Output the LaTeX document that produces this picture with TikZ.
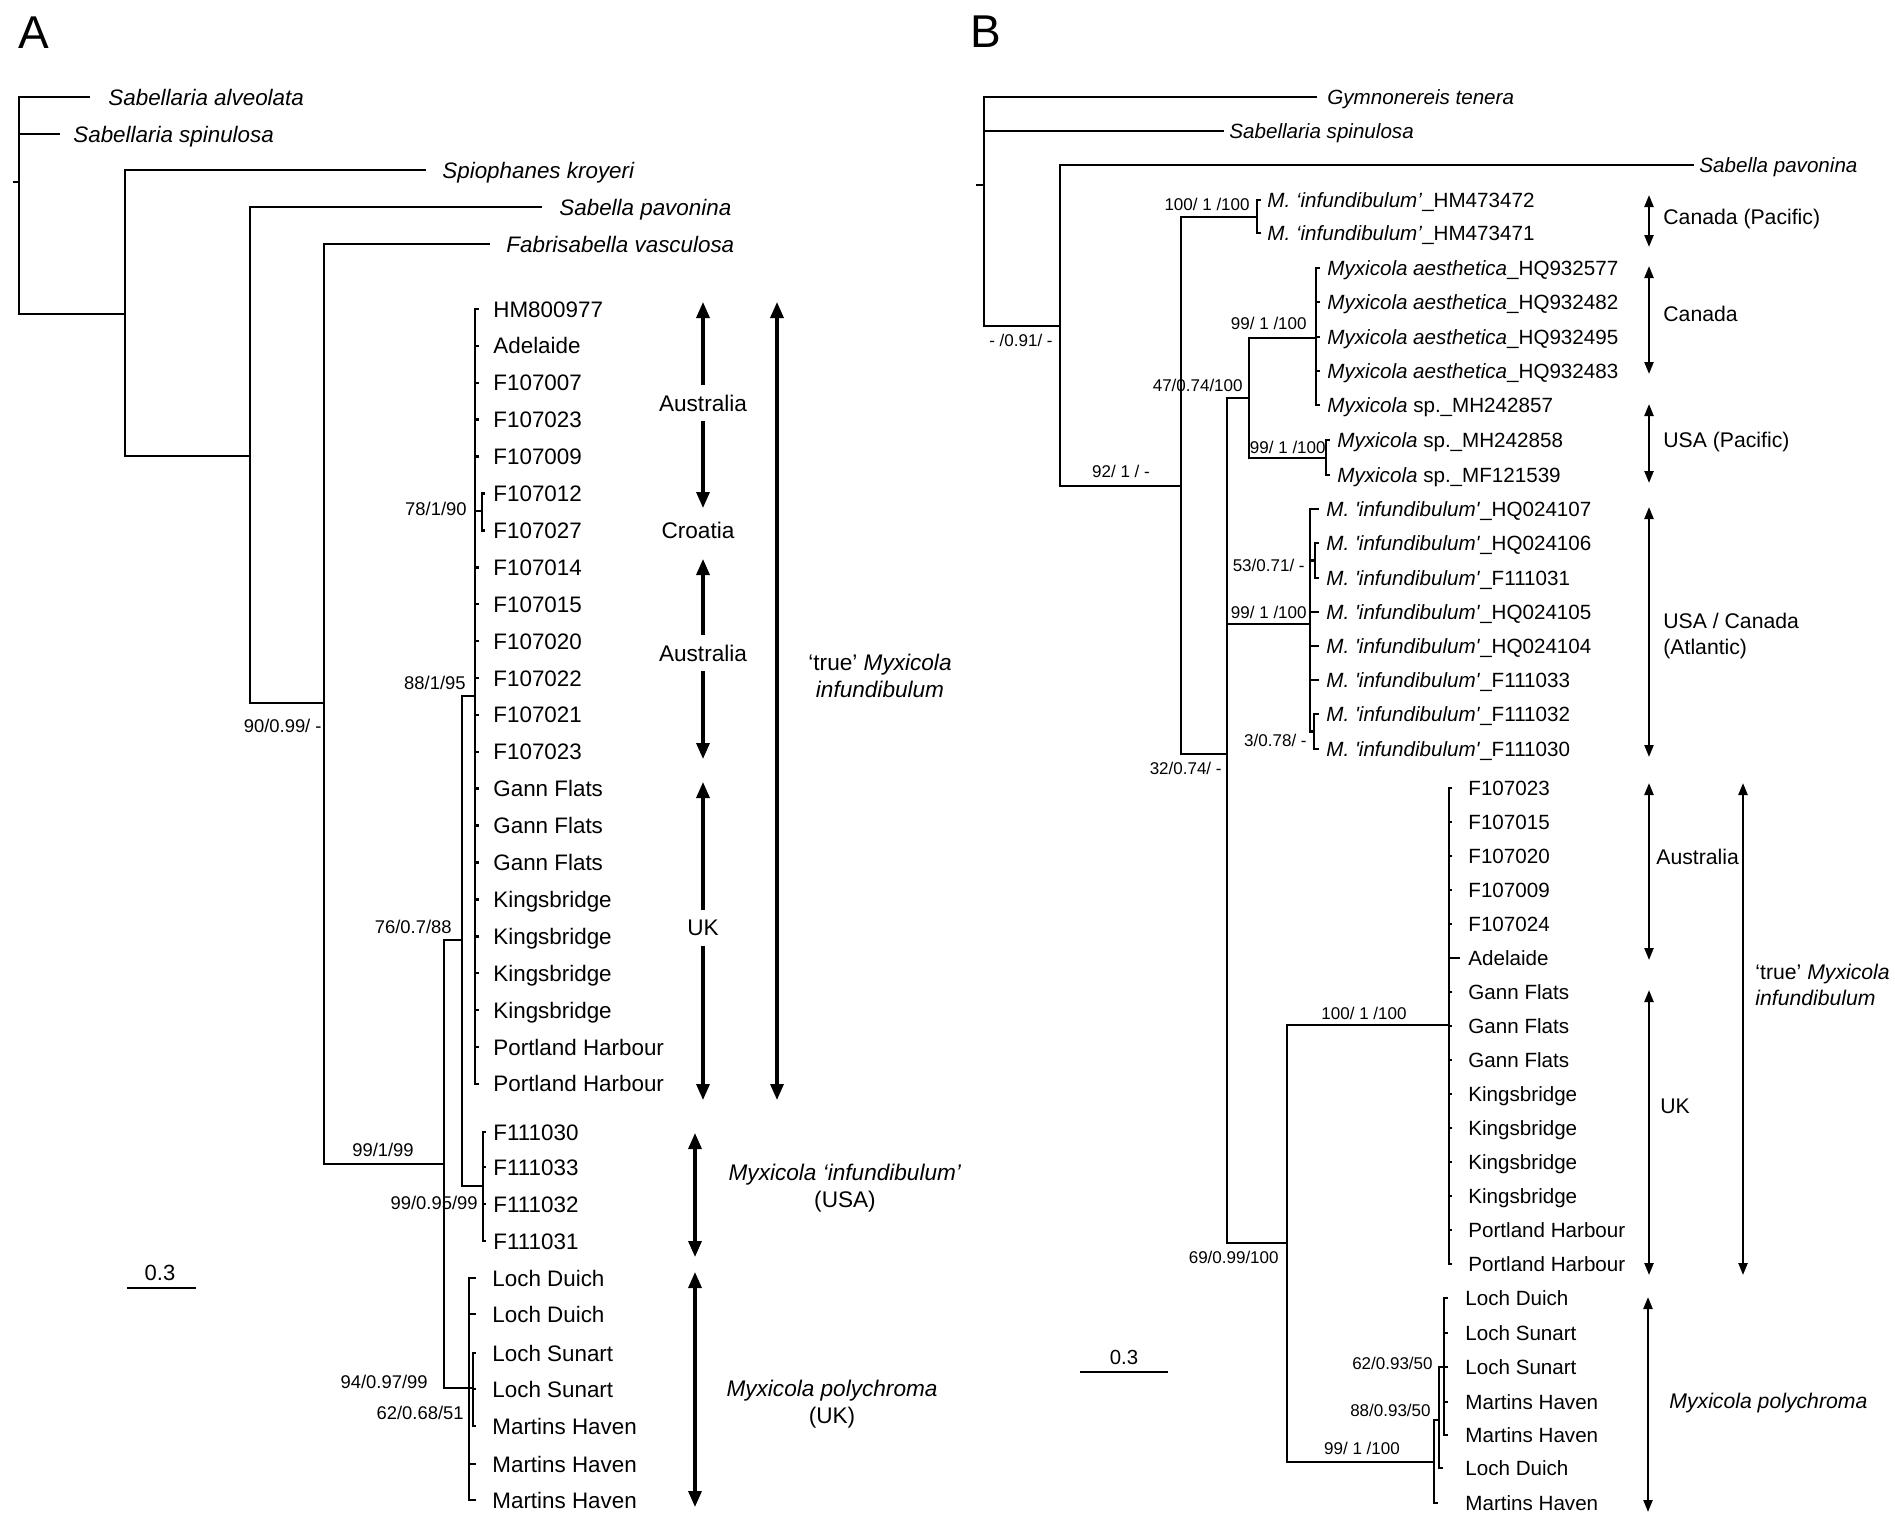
\documentclass[tikz,border=0pt]{standalone}
\usepackage{fontspec}
\setmainfont{Liberation Sans}[Ligatures=TeXOff]
\usetikzlibrary{arrows.meta}
\newcommand{\fsz}[1]{\fontsize{#1}{#1}\selectfont}
\tikzset{
  br/.style={line width=1.25pt},
  tipA/.style={anchor=base west, inner sep=0pt, font=\fsz{11.2}, yshift=-4pt},
  spA/.style={tipA, font=\fsz{11.2}\itshape},
  tipB/.style={anchor=base west, inner sep=0pt, font=\fsz{10.3}, yshift=-3.7pt},
  spB/.style={tipB, font=\fsz{10.3}\itshape},
  supA/.style={anchor=base east, inner sep=0pt, font=\fsz{9.2}, yshift=-3.3pt},
  supB/.style={anchor=base east, inner sep=0pt, font=\fsz{8.5}, yshift=-3pt},
  regA/.style={line width=1.6pt, >={Triangle[width=6.5pt,length=8pt]}, <->},
  regB/.style={line width=1.1pt, >={Triangle[width=4.5pt,length=6pt]}, <->},
  labA/.style={font=\fontsize{11.3}{13.8}\selectfont, inner sep=1pt, align=center},
  labB/.style={font=\fontsize{10.6}{12.9}\selectfont, inner sep=0pt, align=left, anchor=west},
}
\begin{document}
\begin{tikzpicture}[x=0.5pt,y=-0.5pt]
\useasboundingbox (0,0) rectangle (1895,1531);

\node[anchor=base west,inner sep=0pt,font=\fsz{23}] (pA) at (18,48) {A};
\node[anchor=base west,inner sep=0pt,font=\fsz{23}] (pB) at (970,47) {B};

% tree A
\coordinate (rA) at (19,182);
\coordinate (nA1) at (125,314);
\coordinate (nA2) at (250,456);
\coordinate (nA3) at (324,703);
\coordinate (nA4) at (444,1164);
\coordinate (nA5) at (462,940);
\coordinate (nA6) at (475,696);
\coordinate (nA6s) at (482,511);
\coordinate (nA7) at (483,1186);
\coordinate (nA8) at (469,1388);
\coordinate (nA9) at (473,1388);
\coordinate (tAlv) at (90,97);
\coordinate (tSpi) at (60,134);
\coordinate (tSpio) at (426,170);
\coordinate (tSpav) at (542,207);
\coordinate (tFab) at (490,244);
\coordinate (rAe) at (13,182);

\node[spA] (lAlv) at (108,97) {Sabellaria alveolata};
\node[spA] (lSpi) at (73,134) {Sabellaria spinulosa};
\node[spA] (lSpio) at (442,170) {Spiophanes kroyeri};
\node[spA] (lSpav) at (559,207) {Sabella pavonina};
\node[spA] (lFab) at (506,244) {Fabrisabella vasculosa};

\draw[br] (rA) -- (rAe);
\draw[br] (rA) |- (tAlv);
\draw[br] (rA) |- (tSpi);
\draw[br] (rA) |- (nA1);
\draw[br] (nA1) |- (tSpio);
\draw[br] (nA1) |- (nA2);
\draw[br] (nA2) |- (tSpav);
\draw[br] (nA2) |- (nA3);
\draw[br] (nA3) |- (tFab);
\draw[br] (nA3) |- (nA4);
\draw[br] (nA4) |- (nA5);
\draw[br] (nA4) |- (nA8);
\draw[br] (nA5) |- (nA6);
\draw[br] (nA5) |- (nA7);
\draw[br] (nA6) |- (nA6s);
\draw[br] (nA8) |- (nA9);

\foreach \lab [count=\k from 0] in {HM800977,Adelaide,F107007,F107023,F107009,F107012,F107027,F107014,F107015,F107020,F107022,F107021,F107023,Gann Flats,Gann Flats,Gann Flats,Kingsbridge,Kingsbridge,Kingsbridge,Kingsbridge,Portland Harbour,Portland Harbour}{
  \pgfmathsetmacro\ty{309+36.9*\k}
  \ifnum\k=5 \def\upn{nA6s}\def\tx{485}\else\ifnum\k=6 \def\upn{nA6s}\def\tx{485}\else\def\upn{nA6}\def\tx{479}\fi\fi
  \coordinate (tA\k) at (\tx,\ty);
  \node[tipA] (lA\k) at (493,\ty) {\lab};
  \draw[br] (\upn) |- (tA\k);
}
\foreach \y/\lab [count=\k] in {1132/F111030,1167/F111033,1204/F111032,1241/F111031}{
  \coordinate (tU\k) at (486,\y);
  \node[tipA] (lU\k) at (493,\y) {\lab};
  \draw[br] (nA7) |- (tU\k);
}
\foreach \y/\upn/\lab [count=\k] in {1278/nA8/Loch Duich,1314/nA8/Loch Duich,1353/nA9/Loch Sunart,1389/nA9/Loch Sunart,1426/nA9/Martins Haven,1464/nA8/Martins Haven,1500/nA8/Martins Haven}{
  \coordinate (tP\k) at (476,\y);
  \node[tipA] (lP\k) at (492,\y) {\lab};
  \draw[br] (\upn) |- (tP\k);
}

\node[supA] (sA3) at (322,726) {90/0.99/ -};
\node[supA,anchor=base] (sA4) at (383,1150) {99/1/99};
\node[supA] (sA5) at (452,927) {76/0.7/88};
\node[supA] (sA6) at (466,683) {88/1/95};
\node[supA] (sA6s) at (467,509) {78/1/90};
\node[supA] (sA7) at (478,1203) {99/0.95/99};
\node[supA] (sA8) at (428,1382) {94/0.97/99};
\node[supA] (sA9) at (464,1413) {62/0.68/51};

\coordinate (uAus1) at (703,302);
\coordinate (dAus1) at (703,508);
\coordinate (uAus2) at (703,559);
\coordinate (dAus2) at (703,759);
\coordinate (uUK) at (703,782);
\coordinate (dUK) at (703,1100);
\coordinate (uTru) at (777,302);
\coordinate (dTru) at (777,1100);
\coordinate (uUSA) at (695,1133);
\coordinate (dUSA) at (695,1257);
\coordinate (uPol) at (695,1272);
\coordinate (dPol) at (695,1507);
\draw[regA] (uAus1) -- (dAus1) node[labA,pos=0.49,fill=white,inner ysep=5pt] (lAus1) {Australia};
\node[labA] (lCro) at (698,530) {Croatia};
\draw[regA] (uAus2) -- (dAus2) node[labA,pos=0.47,fill=white,inner ysep=5pt] (lAus2) {Australia};
\draw[regA] (uUK) -- (dUK) node[labA,pos=0.46,fill=white,inner ysep=5pt] (lUK) {UK};
\draw[regA] (uTru) -- (dTru);
\draw[regA] (uUSA) -- (dUSA);
\draw[regA] (uPol) -- (dPol);
\node[labA] (lTru) at (880,676) {‘true’ \textit{Myxicola}\\\textit{infundibulum}};
\node[labA] (lUSA) at (845,1188) {\textit{Myxicola ‘infundibulum’}\\(USA)};
\node[labA] (lPol) at (832,1404) {\textit{Myxicola polychroma}\\(UK)};

\coordinate (sbA1) at (127,1288);
\coordinate (sbA2) at (196,1288);
\draw[br] (sbA1) -- (sbA2);
\node[font=\fsz{11}] (lsbA) at (160,1273) {0.3};

% tree B
\coordinate (rB) at (984,185);
\coordinate (rBe) at (976,185);
\coordinate (nB1) at (1060,326);
\coordinate (nB2) at (1181,486);
\coordinate (nB3) at (1257,217);
\coordinate (nB4) at (1227,754);
\coordinate (nB5) at (1249,398);
\coordinate (nB6) at (1310,624);
\coordinate (nB6a) at (1315,560.5);
\coordinate (nB6b) at (1314,731.5);
\coordinate (nB7) at (1287,1243);
\coordinate (nB8) at (1316,338);
\coordinate (nB9) at (1326,458);
\coordinate (nB10) at (1449,1025);
\coordinate (nB11) at (1434,1462);
\coordinate (nB12) at (1439,1420);
\coordinate (nB13) at (1444,1367);
\coordinate (tGym) at (1317,97);
\coordinate (tBSpi) at (1224,131);
\coordinate (tBSpav) at (1694,165);

\node[spB] (lGym) at (1327,97) {Gymnonereis tenera};
\node[spB] (lBSpi) at (1229,131) {Sabellaria spinulosa};
\node[spB] (lBSpav) at (1699,165) {Sabella pavonina};

\draw[br] (rB) -- (rBe);
\draw[br] (rB) |- (tGym);
\draw[br] (rB) |- (tBSpi);
\draw[br] (rB) |- (nB1);
\draw[br] (nB1) |- (tBSpav);
\draw[br] (nB1) |- (nB2);
\draw[br] (nB2) |- (nB3);
\draw[br] (nB2) |- (nB4);
\draw[br] (nB4) |- (nB5);
\draw[br] (nB4) |- (nB6);
\draw[br] (nB4) |- (nB7);
\draw[br] (nB5) |- (nB8);
\draw[br] (nB5) |- (nB9);
\draw[br] (nB6) |- (nB6a);
\draw[br] (nB6) |- (nB6b);
\draw[br] (nB7) |- (nB10);
\draw[br] (nB7) |- (nB11);
\draw[br] (nB11) |- (nB12);
\draw[br] (nB12) |- (nB13);

\foreach \y/\lab [count=\k] in {200/HM473472,233/HM473471}{
  \coordinate (tC\k) at (1261,\y);
  \node[tipB] (lC\k) at (1267,\y) {\textit{M. ‘infundibulum’}\_\lab};
  \draw[br] (nB3) |- (tC\k);
}
\foreach \y/\lab [count=\k] in {268/\textit{Myxicola aesthetica}\_HQ932577,302/\textit{Myxicola aesthetica}\_HQ932482,337/\textit{Myxicola aesthetica}\_HQ932495,371/\textit{Myxicola aesthetica}\_HQ932483,405/\textit{Myxicola} sp.\_MH242857}{
  \coordinate (tE\k) at (1320,\y);
  \node[tipB] (lE\k) at (1327,\y) {\lab};
  \draw[br] (nB8) |- (tE\k);
}
\foreach \y/\lab [count=\k] in {440/MH242858,475/MF121539}{
  \coordinate (tS\k) at (1330,\y);
  \node[tipB] (lS\k) at (1337,\y) {\textit{Myxicola} sp.\_\lab};
  \draw[br] (nB9) |- (tS\k);
}
\foreach \y/\upn/\lab [count=\k] in {509/nB6/HQ024107,543/nB6a/HQ024106,578/nB6a/F111031,612/nB6/HQ024105,646/nB6/HQ024104,680/nB6/F111033,714/nB6b/F111032,749/nB6b/F111030}{
  \coordinate (tT\k) at (1319,\y);
  \node[tipB] (lT\k) at (1326,\y) {\textit{M. 'infundibulum'}\_\lab};
  \draw[br] (\upn) |- (tT\k);
}
\foreach \lab [count=\k from 0] in {F107023,F107015,F107020,F107009,F107024,Adelaide,Gann Flats,Gann Flats,Gann Flats,Kingsbridge,Kingsbridge,Kingsbridge,Kingsbridge,Portland Harbour,Portland Harbour}{
  \pgfmathsetmacro\ty{788+34*\k}
  \ifnum\k=5 \def\tx{1460}\else\def\tx{1452}\fi
  \coordinate (tB\k) at (\tx,\ty);
  \node[tipB] (lB\k) at (1468,\ty) {\lab};
  \draw[br] (nB10) |- (tB\k);
}
\foreach \y/\upn/\tx/\lab [count=\k] in {1298/nB13/1448/Loch Duich,1333/nB13/1448/Loch Sunart,1367/nB13/1448/Loch Sunart,1402/nB13/1448/Martins Haven,1435/nB13/1448/Martins Haven,1468/nB12/1443/Loch Duich,1503/nB11/1438/Martins Haven}{
  \coordinate (tQ\k) at (\tx,\y);
  \node[tipB] (lQ\k) at (1465,\y) {\lab};
  \draw[br] (\upn) |- (tQ\k);
}

\node[supB,anchor=base] (sB1) at (1021,340) {- /0.91/ -};
\node[supB,anchor=base] (sB2) at (1121,471) {92/ 1 / -};
\node[supB] (sB3) at (1250,204) {100/ 1 /100};
\node[supB] (sB4) at (1222,768) {32/0.74/ -};
\node[supB] (sB5) at (1243,385) {47/0.74/100};
\node[supB] (sB8) at (1307,323) {99/ 1 /100};
\node[supB] (sB9) at (1326,447) {99/ 1 /100};
\node[supB] (sB6) at (1307,612) {99/ 1 /100};
\node[supB] (sB6a) at (1305,565) {53/0.71/ -};
\node[supB] (sB6b) at (1307,740) {3/0.78/ -};
\node[supB] (sB7) at (1279,1257) {69/0.99/100};
\node[supB,anchor=base] (sB10) at (1364,1013) {100/ 1 /100};
\node[supB,anchor=base] (sB11) at (1362,1448) {99/ 1 /100};
\node[supB] (sB12) at (1431,1410) {88/0.93/50};
\node[supB] (sB13) at (1433,1363) {62/0.93/50};

\coordinate (uCP) at (1649,195);
\coordinate (dCP) at (1649,247);
\coordinate (uCa) at (1649,266);
\coordinate (dCa) at (1649,374);
\coordinate (uUP) at (1649,404);
\coordinate (dUP) at (1649,483);
\coordinate (uAt) at (1649,507);
\coordinate (dAt) at (1649,757);
\coordinate (uBAu) at (1649,783);
\coordinate (dBAu) at (1649,960);
\coordinate (uBUK) at (1649,990);
\coordinate (dBUK) at (1649,1275);
\coordinate (uBTr) at (1743,783);
\coordinate (dBTr) at (1743,1275);
\coordinate (uBPo) at (1648,1297);
\coordinate (dBPo) at (1648,1512);
\draw[regB] (uCP) -- (dCP);
\draw[regB] (uCa) -- (dCa);
\draw[regB] (uUP) -- (dUP);
\draw[regB] (uAt) -- (dAt);
\draw[regB] (uBAu) -- (dBAu);
\draw[regB] (uBUK) -- (dBUK);
\draw[regB] (uBTr) -- (dBTr);
\draw[regB] (uBPo) -- (dBPo);
\node[labB] (lCP) at (1663,219) {Canada (Pacific)};
\node[labB] (lCa) at (1663,314) {Canada};
\node[labB] (lUP) at (1663,442) {USA (Pacific)};
\node[labB] (lAt) at (1663,636) {USA / Canada\\(Atlantic)};
\node[labB] (lBAu) at (1656,857) {Australia};
\node[labB] (lBUK) at (1660,1106) {UK};
\node[labB] (lBTr) at (1755,985) {‘true’ \textit{Myxicola}\\\textit{infundibulum}};
\node[labB] (lBPo) at (1669,1403) {\textit{Myxicola polychroma}};

\coordinate (sbB1) at (1080,1372);
\coordinate (sbB2) at (1168,1372);
\draw[br] (sbB1) -- (sbB2);
\node[font=\fsz{10.2}] (lsbB) at (1124,1357) {0.3};
\end{tikzpicture}
\end{document}
